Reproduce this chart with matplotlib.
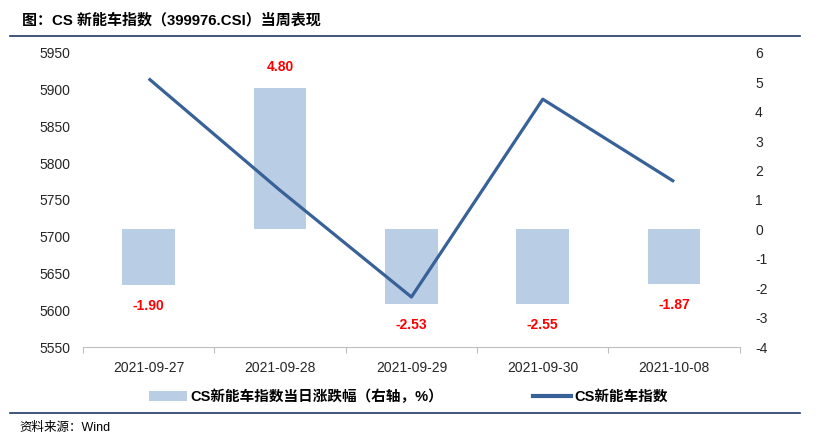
import matplotlib
matplotlib.use("Agg")
import matplotlib.pyplot as plt
from matplotlib.lines import Line2D
from matplotlib.patches import Patch
import numpy as np

plt.rcParams['font.family'] = ['Liberation Sans', 'Noto Sans CJK SC']
plt.rcParams['axes.unicode_minus'] = False

dates = ["2021-09-27", "2021-09-28", "2021-09-29", "2021-09-30", "2021-10-08"]
pct_change = [-1.90, 4.80, -2.53, -2.55, -1.87]
index_close = [5915, 5763, 5618, 5887, 5775]
bar_label = "CS新能车指数当日涨跌幅（右轴，%）"
line_label = "CS新能车指数"
title = "图：CS 新能车指数（399976.CSI）当周表现"
source = "资料来源：Wind"

bar_color = "#B9CDE5"
line_color = "#386197"
navy = "#1F3864"

fig = plt.figure(figsize=(8.22, 4.45), dpi=100)
ax = fig.add_axes([0.101, 0.2202, 0.799, 0.661])
ax2 = ax.twinx()
ax.set_zorder(ax2.get_zorder() + 1)
ax.patch.set_visible(False)

x = np.arange(len(dates))
bars = ax2.bar(x, pct_change, width=0.40, color=bar_color, zorder=2)
for xi, v in zip(x, pct_change):
    off = 10 if v >= 0 else -10
    ax2.annotate(f"{v:.2f}", (xi, v), xytext=(0, off), textcoords="offset points",
                 ha="center", va="bottom" if v >= 0 else "top",
                 color="#FF0000", fontsize=10, fontweight="bold")

ax.plot(x, index_close, color=line_color, linewidth=2.3, solid_capstyle="butt", zorder=3)

ax.set_xlim(-0.5, len(dates) - 0.5)
ax.set_ylim(5550, 5950)
ax.set_yticks(np.arange(5550, 5951, 50))
ax2.set_ylim(-4, 6)
ax2.set_yticks(np.arange(-4, 7, 1))

for a in (ax, ax2):
    for s in a.spines.values():
        s.set_visible(False)
ax.spines['bottom'].set_visible(True)
ax.spines['bottom'].set_color("#BFBFBF")
ax.spines['bottom'].set_linewidth(0.8)

ax.set_xticks(x)
ax.set_xticklabels(dates)
ax.set_xticks(np.arange(-0.5, len(dates), 1), minor=True)
ax.tick_params(axis='x', which='major', length=0, pad=10, labelsize=10, labelcolor="#262626")
ax.tick_params(axis='x', which='minor', length=4, width=0.8, color="#BFBFBF", direction="out")
ax.tick_params(axis='y', length=0, pad=9, labelsize=10, labelcolor="#262626")
ax2.tick_params(axis='y', length=0, pad=11, labelsize=10, labelcolor="#262626")

handles = [Patch(facecolor=bar_color, edgecolor='none'),
           Line2D([0], [0], color=line_color, linewidth=3)]
leg = fig.legend(handles, [bar_label, line_label], loc="center",
                 bbox_to_anchor=(0.497, 0.108), ncol=2, frameon=False,
                 handlelength=2.6, handleheight=0.6, handletextpad=0.2,
                 columnspacing=6.2, prop={'size': 10.5, 'weight': 'bold'})

fig.text(0.027, 0.955, title, fontsize=10.8, fontweight="bold", ha="left", va="center", color="#000000")
fig.add_artist(Line2D([0.012, 0.973], [1 - 36/445, 1 - 36/445], color=navy, linewidth=1.2,
                      transform=fig.transFigure))
fig.add_artist(Line2D([0.012, 0.973], [1 - 413/445, 1 - 413/445], color=navy, linewidth=1.2,
                      transform=fig.transFigure))
fig.text(0.024, 1 - 428/445, source, fontsize=9, ha="left", va="center", color="#000000")

fig.savefig("out.png", dpi=100)
